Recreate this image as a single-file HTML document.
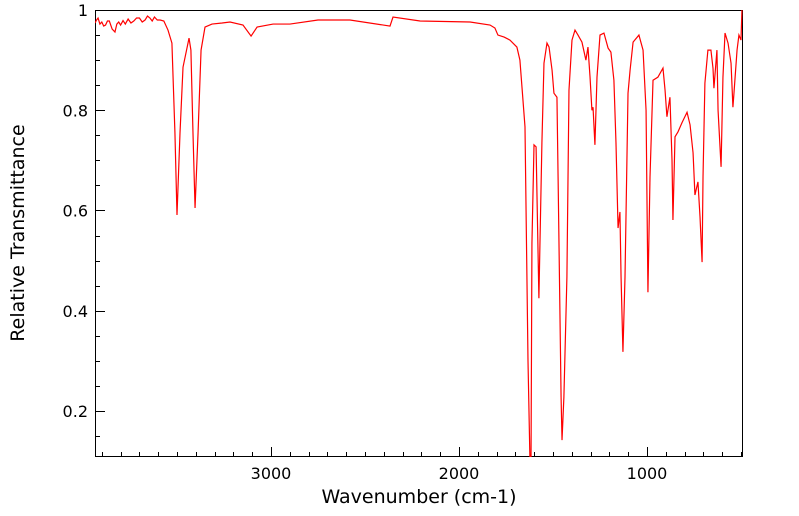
<!DOCTYPE html>
<html><head><meta charset="utf-8"><style>
html,body{margin:0;padding:0;background:#fff;}
svg{display:block;font-family:"DejaVu Sans","Liberation Sans",sans-serif;}
</style></head><body>
<svg id="chart" width="799" height="516" viewBox="0 0 799 516" xmlns="http://www.w3.org/2000/svg">
<defs><clipPath id="plotclip"><rect x="95" y="10" width="648" height="447"/></clipPath></defs>
<rect x="95.5" y="10.5" width="647" height="446" fill="none" stroke="#000" stroke-width="1"/>
<g id="xticks"></g>
<g id="yticks"></g>
<path id="spec" fill="none" stroke="#ff0000" stroke-width="1.2" clip-path="url(#plotclip)"/>
<text x="419" y="503" font-size="19" text-anchor="middle">Wavenumber (cm-1)</text>
<text transform="translate(24,233) rotate(-90)" font-size="19" text-anchor="middle">Relative Transmittance</text>
</svg>
<script>
const wavenumbers = [3936,3928,3920,3910,3900,3890,3880,3870,3860,3845,3830,3820,3810,3800,3787,3775,3760,3745,3730,3715,3700,3685,3670,3657,3644,3632,3620,3605,3590,3570,3548,3527,3511,3500,3484,3468,3436,3426,3415,3404,3388,3372,3351,3314,3260,3218,3149,3106,3074,2989,2899,2750,2580,2367,2351,2207,1941,1835,1809,1793,1760,1729,1692,1676,1665,1649,1633,1622,1617,1612,1601,1590,1575,1559,1548,1532,1521,1505,1495,1479,1473,1457,1452,1442,1426,1415,1399,1383,1367,1346,1325,1314,1303,1293,1287,1277,1266,1250,1229,1207,1192,1176,1165,1154,1144,1138,1128,1117,1101,1090,1074,1043,1021,1005,995,984,968,942,915,904,894,878,867,862,851,835,814,787,771,755,745,729,718,707,702,692,676,660,649,644,628,622,606,596,585,569,553,543,537,521,511,500,495];
const transmittance = [0.974,0.980,0.984,0.972,0.976,0.968,0.970,0.978,0.978,0.962,0.956,0.972,0.976,0.970,0.979,0.972,0.982,0.974,0.978,0.984,0.984,0.976,0.980,0.988,0.984,0.978,0.986,0.980,0.980,0.978,0.960,0.934,0.755,0.591,0.755,0.886,0.944,0.920,0.755,0.605,0.755,0.920,0.966,0.972,0.974,0.976,0.970,0.948,0.966,0.972,0.972,0.980,0.980,0.968,0.986,0.978,0.976,0.970,0.964,0.950,0.946,0.940,0.926,0.900,0.846,0.767,0.300,0.09,0.09,0.535,0.731,0.727,0.425,0.735,0.894,0.934,0.926,0.880,0.834,0.826,0.667,0.228,0.142,0.228,0.467,0.840,0.940,0.960,0.950,0.936,0.900,0.926,0.866,0.800,0.806,0.731,0.866,0.950,0.954,0.924,0.916,0.860,0.735,0.565,0.597,0.467,0.318,0.467,0.834,0.880,0.936,0.950,0.920,0.800,0.437,0.667,0.860,0.866,0.884,0.840,0.787,0.826,0.701,0.581,0.747,0.757,0.775,0.796,0.771,0.715,0.631,0.657,0.587,0.497,0.667,0.854,0.920,0.920,0.884,0.844,0.920,0.800,0.687,0.866,0.954,0.934,0.894,0.806,0.836,0.920,0.950,0.940,1.0];
const xMajorTicks = [3000,2000,1000];
const yMajorTicks = [0.2,0.4,0.6,0.8,1.0];
const yTickLabels = ["0.2","0.4","0.6","0.8","1"];

const NS="http://www.w3.org/2000/svg";
function xS(w){return 271-(w-3000)*188/1000;}
function yS(t){return 10+(1-t)*401/0.8;}
function mk(tag,attrs,parent){const e=document.createElementNS(NS,tag);for(const k in attrs)e.setAttribute(k,attrs[k]);parent.appendChild(e);return e;}

let d="";
for(let i=0;i<wavenumbers.length;i++){d+=(i?"L":"M")+xS(wavenumbers[i]).toFixed(2)+","+yS(transmittance[i]).toFixed(2);}
document.getElementById("spec").setAttribute("d",d);

const xg=document.getElementById("xticks");
for(let w=3900;w>=500;w-=100){
  const x=Math.round(xS(w))+0.5;
  const major=xMajorTicks.indexOf(w)>=0;
  const t=mk("line",{x1:x,x2:x,y1:457,y2:major?447:452,stroke:"#000","stroke-width":1},xg);
  
  
}
xMajorTicks.forEach(w=>{
  const t=mk("text",{x:xS(w),y:479,"font-size":16,"text-anchor":"middle"},xg);
  t.textContent=String(w);
  
  
});
const yg=document.getElementById("yticks");
for(let k=3;k<=20;k++){
  const v=k*0.05;
  const y=Math.round(yS(v))+0.5;
  const major=(k%4===0);
  const t=mk("line",{x1:95,x2:major?105:100,y1:y,y2:y,stroke:"#000","stroke-width":1},yg);
  
  
}
yMajorTicks.forEach((v,i)=>{
  const t=mk("text",{x:88,y:yS(v)+6,"font-size":16,"text-anchor":"end"},yg);
  t.textContent=yTickLabels[i];
  
  
});
</script>
</body></html>
